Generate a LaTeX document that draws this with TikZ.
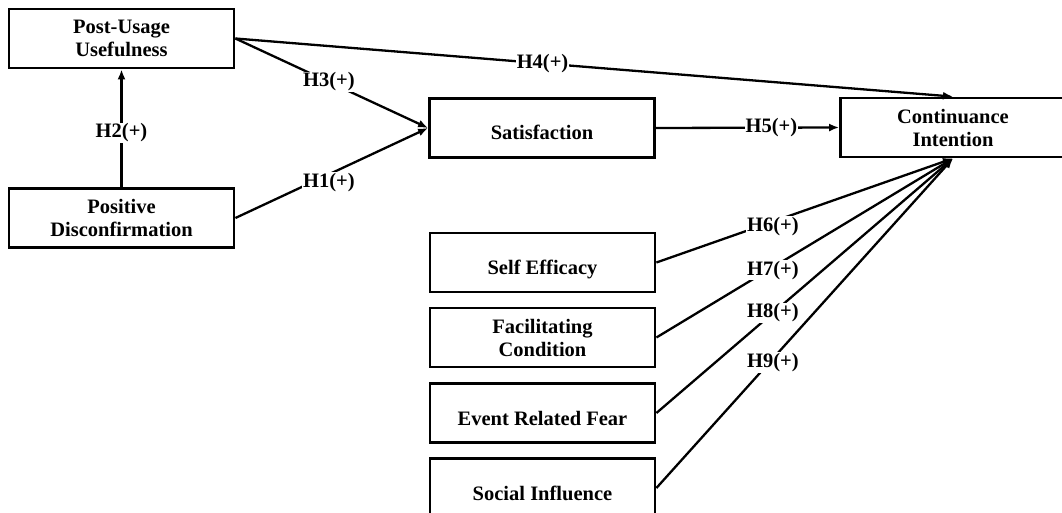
\documentclass[tikz,border=0pt]{standalone}
\usepackage{fontspec}
\setmainfont{Liberation Serif}
\usetikzlibrary{arrows.meta}
\begin{document}
\begin{tikzpicture}[x=1pt,y=-1pt,
  every node/.style={font=\bfseries\fontsize{20.5}{23}\selectfont},
  box/.style={draw,line width=2.8pt,minimum width=225pt,minimum height=59pt,align=center,inner sep=0pt},
  onebox/.style={box,text height=24pt,text depth=0pt},
  link/.style={line width=2.3pt,-{Latex[length=10pt,width=8pt]}},
  hyp/.style={fill=white,inner sep=1pt}]
\path[use as bounding box,clip] (0,0) rectangle (1062,513);
\node[box] (pu) at (121.5,38.5) {Post-Usage\\Usefulness};
\node[box] (pd) at (121.5,218) {Positive\\Disconfirmation};
\node[onebox] (sat) at (542,128) {Satisfaction};
\node[box] (ci) at (953,127.5) {Continuance\\Intention};
\node[onebox] (se) at (542.5,262.5) {Self Efficacy};
\node[box] (fc) at (542.5,337.5) {Facilitating\\Condition};
\node[onebox] (erf) at (542.5,413) {Event Related Fear};
\node[onebox] (si) at (542.5,488) {Social Influence};
\draw[link] (pd.north) -- node[hyp,pos=0.46] (h2) {H2(+)} (pu.south);
\draw[link] (pu.east) -- node[hyp,pos=0.485] (h3) {H3(+)} (sat.west);
\draw[link] (pd.east) -- node[hyp,pos=0.485,yshift=-8pt] (h1) {H1(+)} (sat.west);
\draw[link] (pu.east) -- node[hyp,pos=0.428] (h4) {H4(+)} (ci.north);
\draw[link] (sat.east) -- node[hyp,pos=0.63] (h5) {H5(+)} (ci.west);
\draw[link] (se.east) -- node[hyp,pos=0.393,yshift=-5pt] (h6) {H6(+)} (ci.south);
\draw[link] (fc.east) -- node[hyp,pos=0.393,yshift=-3pt] (h7) {H7(+)} (ci.south);
\draw[link] (erf.east) -- node[hyp,pos=0.393] (h8) {H8(+)} (ci.south);
\draw[link] (si.east) -- node[hyp,pos=0.393,yshift=-4pt] (h9) {H9(+)} (ci.south);
\end{tikzpicture}
\end{document}
